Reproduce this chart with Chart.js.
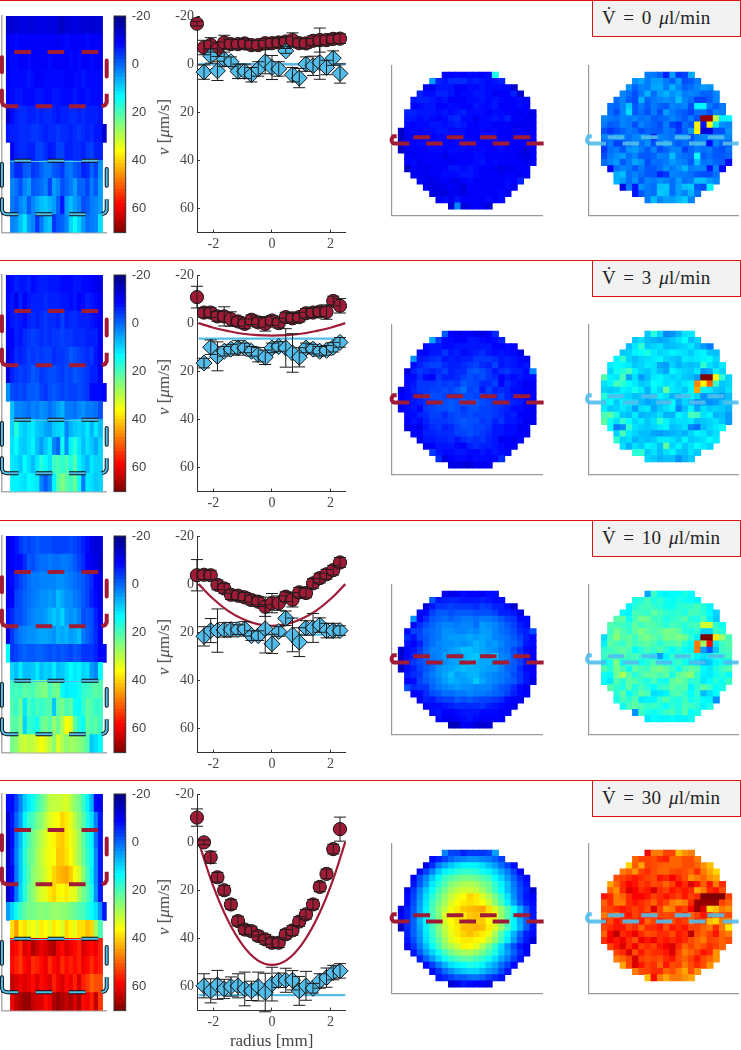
<!DOCTYPE html>
<html>
<head>
<meta charset="utf-8">
<title>Velocity profiles</title>
<script src="https://cdn.jsdelivr.net/npm/chart.js@4"></script>
<style>
  html, body { margin: 0; padding: 0; background: #fff; }
  #page { position: relative; width: 741px; height: 1050px; overflow: hidden; }
  canvas { position: absolute; }
  .sep { position: absolute; left: 0; width: 741px; height: 1.4px; background: #dc1414; }
  .box { position: absolute; left: 592px; width: 147px; height: 35px; background: #f2f2f2; border: 1.3px solid #dc1414;
         font: 19px "Liberation Serif", serif; color: #222; line-height: 34px; text-indent: 9px; word-spacing: 2.5px; letter-spacing: 0.3px; white-space: nowrap; }
  .ylab { position: absolute; font: 17px "Liberation Serif", serif; color: #444; white-space: nowrap; transform: translate(-50%, -50%) rotate(-90deg); }
  .xlab { position: absolute; font: 17px "Liberation Serif", serif; color: #444; white-space: nowrap; transform: translate(-50%, -50%); }
</style>
</head>
<body>
<div id="page"></div>
<script>
// flow rates of the four rows
const flowRates = [0, 3, 10, 30];

// colour bar
const barLevels = [-20,-18.5,-17,-15.5,-14,-12.5,-11,-9.5,-8,-6.5,-5,-3.5,-2,-0.5,1,2.5,4,5.5,7,8.5,10,11.5,13,14.5,16,17.5,19,20.5,22,23.5,25,26.5,28,29.5,31,32.5,34,35.5,37,38.5,40,41.5,43,44.5,46,47.5,49,50.5,52,53.5,55,56.5,58,59.5,61,62.5,64,65.5,67,68.5,70];
const barTicks = [-20, 0, 20, 40, 60];
const profileYTicks = [-20, 0, 20, 40, 60];
const profileXTicks = [-2, 0, 2];

// velocity profiles, radius in mm, v in um/s
const radius = [-2.56,-2.32,-2.09,-1.86,-1.63,-1.40,-1.16,-0.93,-0.70,-0.47,-0.23,0,0.23,0.47,0.70,0.93,1.16,1.40,1.63,1.86,2.09,2.32];
const radiusBlue = [-2.32,-2.09,-1.86,-1.63,-1.40,-1.16,-0.93,-0.70,-0.47,-0.23,0,0.23,0.47,0.70,0.93,1.16,1.40,1.63,1.86,2.09,2.32];

const velRed0 = [-16.8,-6.9,-8,-6.2,-9,-8.3,-8.3,-8.6,-7.9,-7.9,-8.7,-8.7,-9,-9.4,-10,-8.7,-8.6,-9.7,-10,-10,-10.5,-10.6];
const errRed0 = [1,3,3,3,3,2,2,2,2,2,2,2,2,2,3,2,2,2,5,2,2,2];
const velBlue0 = [3.3,-3.4,2.8,-2,-1,3,3,4.4,2,-1,1.4,2,-5.5,4.4,5.8,0,0.7,-0.7,1.4,-2.5,3.9];
const errBlue0 = [3,3,4,3,2,3,3,3,3,5,5,3,1,3,4,3,4,7,3,3,4];

const velRed1 = [-10.8,-4.4,-4.4,-2.8,-2.8,-1.7,-0.7,0.3,-1.4,-0.3,0.3,-1.1,0,-2.5,-2,-2.5,-4.1,-4.4,-4.8,-4.6,-9.2,-7.2];
const errRed1 = [4.5,2,2,2,4,3,2,2,2,2,3,2,2,2,2,2,2,2,2,3,2,3];
const velBlue1 = [16.6,10,13.8,11.7,10.8,10.3,10.3,11.7,13.1,14.2,10.3,9.7,10.3,12.4,14.2,10.3,10.8,11.7,11.3,10,8];
const errBlue1 = [2,3,6,2,2,3,2,2,3,3,2,2,8,8,4,2,2,2,2,2,2];

const velRed2 = [-3.7,-3.9,-3.7,0.3,1.8,4.4,4.8,5.5,6.6,7.3,9.4,7.9,7.9,5.2,6.5,3.4,3.7,-0.3,-2.5,-4.1,-5.8,-9];
const errRed2 = [6.5,2,2,2,2,2,2,2,2,2,4,4,3,2,3,2,2,2,2,2,2,2];
const velBlue2 = [21.7,19.3,19.3,19,18.9,18.9,18.6,21.4,21.4,18.6,24.8,19.7,14.2,21.1,24.1,18.2,18.2,17,19.3,19.3,19.3];
const errBlue2 = [4,5,9,3,3,2,3,2,2,10,4,2,3,7,6,3,6,3,3,3,2];

const velRed3 = [-10.2,0.1,6.3,14.6,20,25.9,32.8,36.3,37,39,40.4,41.8,41.8,38.3,36.7,33,30,25.9,18.6,13.2,2.9,-5.4];
const errRed3 = [3.6,1,2.5,2,2,2,2,2,2,2,2,2,2,2,2,2,2,2,2,2,2,5];
const velBlue3 = [59.7,61.8,59.3,61,60,59.7,61,61.8,60,62.5,59,57.4,57.4,57.4,61.8,59.7,60.7,57.7,56.3,54.2,53.5];
const errBlue3 = [5,5,6,4,4,5,7,4,6,8,7,3,5,4,6,6,2,3,4,3,3];

// model curves
const fitRadius = [-2.5,-2,-1.5,-1,-0.5,0,0.5,1,1.5,2,2.5];
const fitRed0 = [0,0,0,0,0,0,0,0,0,0,0];
const fitRed1 = [0,1.9,3.3,4.4,5,5.2,5,4.4,3.3,1.9,0];
const fitRed2 = [0,6.2,11.1,14.5,16.6,17.3,16.6,14.5,11.1,6.2,0];
const fitRed3 = [0,18.4,32.6,42.8,49,51,49,42.8,32.6,18.4,0];
const fitBlueRadius = [-2.5, 2.5];
const fitBlue0 = [0, 0];
const fitBlue1 = [6.4, 6.4];
const fitBlue2 = [21, 21];
const fitBlue3 = [63.6, 63.6];

// first column of each row of the side slices and the discs
const heatRowStart = [0,0,0,0,0,0,0,1,1,1,1,1];
const discTopStart = [7,5,4,3,2,2,1,1,1,0,0,0,0,1,1,1,2,3,4,5,6,8];
const discBotStart = [8,6,5,4,3,2,2,1,1,1,1,1,1,1,1,2,3,3,4,6,8];

// side slices, v per cell
const heat0 = [
[-13,-12,-12,-12,-11,-12,-12,-11,-11,-11,-12,-11,-13,-14,-12,-12,-11,-12,-12,-12,-13,-12,-13],
[-10,-9,-8,-9,-9,-9,-9,-9,-9,-9,-9,-9,-10,-9,-8,-9,-9,-9,-9,-8,-9,-9,-9],
[-10,-8,-8,-9,-9,-8,-9,-9,-9,-9,-8,-9,-9,-9,-9,-8,-9,-8,-9,-9,-8,-9,-9],
[-9,-8,-8,-8,-8,-7,-8,-9,-9,-8,-8,-8,-8,-8,-9,-9,-8,-8,-7,-8,-8,-8,-8],
[-9,-8,-7,-7,-8,-8,-8,-7,-7,-8,-8,-7,-7,-8,-8,-8,-7,-8,-8,-7,-8,-8,-8],
[-13,-8,-6,-5,-5,-6,-6,-5,-6,-5,-5,-6,-7,-6,-6,-5,-5,-6,-5,-6,-6,-6,-7],
[-7,-6,-6,-5,-5,-5,-4,-4,-5,-6,-5,-5,-4,-5,-5,-6,-5,-4,-5,-6,-5,-7,-7,-13],
[-9,-6,-5,-5,-6,-6,-3,-3,-5,-7,-6,-3,-3,-6,-6,-5,-5,-6,-4,-3,-6,-6],
[-1,-5,-5,-1,0,-4,-3,0,2,2,-1,-2,-4,1,2,-1,-2,-6,-5,0,-3,4],
[3,1,-2,3,5,-1,0,1,3,-3,5,3,-2,0,2,5,0,0,-3,2,-1,5],
[2,0,3,5,-1,3,6,8,9,7,5,0,-7,5,8,5,3,-2,-1,2,3,5],
[3,4,8,12,5,3,-4,2,7,9,-4,-1,0,3,10,14,10,5,1,2,3,11]];
const heat1 = [
[-9,-8,-6,-7,-7,-6,-8,-7,-6,-6,-7,-7,-7,-8,-8,-8,-7,-7,-8,-8,-9,-10,-11],
[-8,-7,-10,-6,-9,-7,-6,-6,-6,-5,-6,-6,-6,-7,-7,-8,-7,-9,-8,-6,-7,-8,-9],
[-9,-7,-6,-7,-8,-6,-5,-6,-5,-4,-5,-5,-6,-3,-6,-5,-5,-6,-6,-6,-7,-8,-9],
[-9,-9,-6,-7,-5,-4,-3,-4,-5,-4,-5,-4,-4,-3,-4,-4,-5,-5,-5,-6,-6,-6,-9],
[-12,-8,-5,-6,-5,-3,-4,-3,-4,-3,-3,-5,-4,-4,-3,-1,-2,-3,-4,-5,-4,-7,-9],
[-12,-6,-4,-3,-4,-3,-1,-2,-4,-3,-2,-2,-3,-4,-2,-3,-1,-2,-3,-4,-6,-6,-9],
[4,-2,-3,-2,-3,-1,-1,0,-3,-4,-2,-1,-2,-3,-2,-3,-3,-2,-3,-4,-8,-8,-8,-9],
[8,3,3,2,1,3,2,4,3,1,3,5,7,2,2,1,3,4,2,2,1,-2],
[10,17,11,9,11,12,9,8,6,5,9,10,11,3,7,9,10,9,12,7,12,8],
[11,14,10,9,11,13,8,5,9,12,3,0,15,4,13,17,12,8,11,9,6,10],
[12,11,9,14,11,8,12,17,14,11,19,20,18,20,16,21,13,10,7,12,10,10],
[13,13,12,11,14,13,12,3,-1,3,13,21,25,22,19,23,15,2,12,11,9,10]];
const heat2 = [
[-11,-9,-7,-4,-2,-3,-2,-1,-2,-2,-2,-3,-3,-3,-3,-2,-3,-4,-6,-8,-11,-12,-12],
[-11,-9,-8,-8,-5,-1,-2,0,1,1,2,1,1,2,2,1,-1,-3,-5,-9,-10,-11,-13],
[-9,-8,-5,-3,-1,1,2,2,3,3,3,3,4,4,3,2,1,0,-1,-3,-5,-9,-10],
[-10,-9,-3,-2,0,1,2,3,4,4,5,4,8,6,4,4,2,1,-1,-3,-6,-8,-10],
[-7,-5,-2,-2,0,2,3,4,4,5,7,9,7,10,5,4,5,3,-2,-1,-2,-6,-9],
[-11,-4,0,2,3,4,4,5,6,6,5,4,7,6,7,5,6,8,2,0,-2,-5,-9],
[14,-4,-3,-1,0,-1,-1,0,0,-1,-2,-1,-2,-1,-2,-3,-1,-2,-4,-4,-4,-6,-9,-8],
[10,8,12,8,8,9,12,8,10,9,12,8,9,11,14,12,13,10,11,5,3,14],
[19,20,19,22,21,20,23,24,25,20,23,24,14,12,13,13,15,18,19,20,22,21],
[21,18,24,12,20,17,20,18,20,21,9,22,24,20,22,15,14,18,22,21,18,19],
[22,21,25,10,18,17,15,22,24,21,27,23,29,36,34,22,17,14,23,20,22,19],
[24,26,30,32,30,31,33,36,33,30,26,33,29,26,28,27,26,24,21,9,11,14]];
const heat3 = [
[-8,-8,-3,3,9,12,15,19,22,26,30,31,31,32,33,30,26,24,19,13,7,-9,-10],
[-13,-7,0,5,13,18,20,24,26,30,33,35,36,40,38,34,30,26,22,16,11,2,-7],
[-14,-8,2,8,16,20,24,27,30,33,35,37,40,41,38,35,32,28,22,17,13,1,-7],
[-14,-7,3,9,17,22,24,28,31,34,35,36,41,41,39,36,32,28,23,18,14,3,-7],
[-13,-9,2,9,16,21,26,28,30,33,35,40,42,43,44,41,36,33,26,20,13,3,-7],
[-14,-8,2,10,17,23,26,30,33,34,38,40,37,36,38,34,34,28,24,21,16,4,-7],
[5,10,15,19,22,24,24,25,26,25,26,27,27,26,26,24,23,21,20,17,14,11,4,-7],
[39,45,37,39,34,36,33,38,36,34,38,36,33,40,37,34,39,39,42,40,28,20],
[60,58,55,62,60,66,63,60,62,64,66,60,58,62,60,58,56,62,60,58,60,56],
[58,56,54,58,60,55,56,58,60,55,58,60,55,58,56,58,56,60,58,55,58,56],
[64,62,60,62,60,58,62,58,60,62,56,60,62,58,60,56,62,56,54,50,52,52],
[60,64,66,68,68,64,62,62,58,60,66,68,66,64,66,62,66,58,60,56,64,54]];

// discs, v per cell, third column of the figure
const discTop0 = [
[-9,-9,-8,-9,-8,-8,-9,-8,16],
[5,-6,-7,-5,-5,-5,-7,-6,-7,-8,-7,-6],
[-10,-10,-7,-7,-7,-9,-9,-8,-8,-7,-8,-8,-8,-8,-13],
[-6,-8,-8,-6,-6,-7,-9,-8,-8,-7,-7,-8,-10,-9,-9,-6,-13],
[-7,-6,-6,-7,-8,-7,-9,-9,-9,-8,-8,-7,-8,-7,-8,-9,-9,-8,-9],
[-9,-8,-7,-7,-9,-9,-8,-8,-9,-9,-7,-8,-8,-7,-9,-9,-9,-8,-9],
[-6,-6,-7,-7,-7,-8,-7,-8,-7,-6,-8,-8,-8,-9,-8,-8,-9,-9,-10,-9,-11],
[-7,-7,-8,-7,-8,-9,-8,-6,-5,-8,-8,-10,-8,-8,-7,-8,-6,-9,-9,-10,-10],
[-8,-9,-8,-8,-7,-7,-8,-7,-6,-7,-9,-9,-8,-8,-9,-9,-9,-10,-10,-10,-10],
[-14,-9,-8,-9,-8,-8,-7,-7,-8,-8,-8,-9,-9,-8,-9,-8,-9,-9,-10,-9,-10,-9],
[-14,-10,-9,-9,-8,-9,-8,-8,-9,-8,-8,-9,-9,-8,-7,-8,-9,-9,-9,-9,-10,-9],
[-14,-9,-9,-8,-8,-8,-8,-8,-9,-8,-8,-8,-8,-9,-9,-9,-9,-10,-9,-9,-9,-10],
[-14,-10,-9,-9,-9,-8,-8,-9,-8,-8,-8,-9,-8,-8,-9,-9,-8,-9,-9,-10,-12,-9],
[-9,-10,-9,-9,-9,-9,-11,-9,-9,-9,-9,-8,-8,-9,-9,-9,-9,-9,-10,-11,-9],
[-9,-8,-10,-9,-9,-9,-9,-10,-9,-9,-9,-8,-7,-9,-8,-9,-9,-9,-9,-10,-9],
[-14,-9,-10,-10,-10,-9,-9,-7,-7,-8,-7,-8,-9,-9,-10,-11,-10,-10,-9,-9],
[-10,-10,-10,-9,-9,-8,-8,-8,-7,-7,-8,-9,-9,-9,-10,-9,-9,-10,-9],
[-9,-10,-11,-10,-9,-10,-11,-9,-8,-9,-9,-9,-9,-9,-8,-9,-6],
[-10,-11,-11,-10,-9,-10,-12,-9,-9,-9,-9,-9,-9,-8,-9],
[-11,-11,-12,-10,-10,-11,-9,-9,-9,-9,-9,-8,-9],
[-10,-8,-10,-7,-9,-9,-9,-9,-8,-9,-8],
[-12,3,-12,-10,-9,-10,-12]];
const discTop1 = [
[-1,-9,-10,-9,-9,-10,-11,-9,-5],
[6,-4,-8,-8,-9,-9,-7,-7,-8,-9,-8,-6],
[-8,-7,-7,-8,-8,-7,-7,-7,-7,-7,-7,-9,-9,-8,-9],
[-8,-9,-7,-7,-4,-7,-6,-8,-7,-6,-5,-7,-8,-7,-8,-8,-11],
[4,-7,-6,-5,-4,-7,-6,-7,-6,-6,-4,-4,-4,-5,-7,-6,-7,-8,-9],
[-8,-6,-4,-3,-3,-5,-6,-6,-5,-4,-3,-5,-6,-3,-7,-6,-7,-8,-7],
[-12,-6,-4,-5,-6,-5,-3,-6,-5,-5,-2,-1,-2,-4,-7,-5,-4,-6,-6,-8,3],
[-8,-8,-5,-8,-9,-4,-6,-6,-5,-3,-2,-3,-2,-4,-5,-9,-7,-8,-7,-8,-8],
[-8,-7,-4,-4,-4,-3,-4,-3,-4,-1,-2,-3,-5,-5,-3,-9,-5,-7,-8,-10,-9],
[-11,-8,-6,-4,-4,-3,-3,-2,-3,-1,1,-3,-2,-7,-3,-6,-5,-6,-8,-8,-9,-9],
[-9,-8,-7,-6,-3,-2,-2,-3,-3,-3,-2,-2,-3,-3,-4,-5,-3,-6,-7,-8,-9,-9],
[-10,-9,-7,-6,-5,-4,-2,-2,-1,-2,0,-2,-1,-2,-3,-4,-4,-5,-6,-7,-9,-10],
[-9,-8,-7,-9,-4,-3,-2,-2,-1,-2,-4,-2,-2,-3,-3,-4,-5,-6,-8,-8,-9,-10],
[-8,-8,-6,-5,-3,-3,-5,-3,-2,-3,-2,-3,-3,-3,-4,-5,-7,-6,-9,-9,-10],
[-9,-7,-8,-6,-4,-4,-4,-3,-2,-1,-2,-2,-4,-3,-6,-4,-7,-7,-8,-10,-10],
[-11,-9,-11,-7,-5,-4,-6,-5,-3,-2,-2,-3,-3,-4,-7,-7,-8,-8,-10,-9],
[-8,-9,-6,-6,-5,-5,-5,-3,-3,-2,-3,-4,-5,-7,-7,-8,-8,-9,-9],
[-10,-7,-7,-6,-6,-5,-7,-5,-4,-5,-4,-6,-7,-10,-9,-10,-8],
[-10,-9,-7,-7,-7,-8,-9,-6,-5,-6,-6,-7,-8,-9,-9],
[-4,-7,-8,-8,-7,-7,-8,-8,-7,-8,-7,-8,-8],
[-5,-11,-9,-8,-8,-9,-8,-8,-8,-8,-5],
[-11,-11,-12,-12,-10,-10,-9]];
const discTop2 = [
[-10,-11,-10,-8,-9,-9,-10,-8,-8],
[-1,-7,-6,-6,-6,-7,-7,-7,-6,-7,-8,-8],
[-12,-7,-4,-4,-3,-4,-4,-4,-5,-3,-4,-6,-6,-8,-13],
[-8,-8,-3,-1,-1,-2,-1,-1,-1,-2,-2,-2,-3,-6,-6,-7,-11],
[4,-9,-5,-1,0,1,0,1,2,2,1,2,2,1,-1,-3,-4,-8,-8],
[-8,-5,-2,0,2,3,3,2,3,3,1,5,4,3,1,-1,-3,-6,-8],
[-8,-3,-3,0,1,2,4,4,3,3,4,3,5,5,3,1,0,-2,-5,-6,-2],
[-5,-7,-3,-1,1,2,4,5,5,5,6,5,6,5,3,2,1,-1,-3,-6,-8],
[-7,-9,-6,-1,1,3,4,4,5,4,5,7,6,4,5,3,1,0,-2,-7,-8],
[-13,-8,-7,-4,0,3,3,4,5,6,8,8,7,6,5,4,2,1,-2,-5,-8,-9],
[-13,-8,-6,-4,0,2,3,5,6,5,7,8,9,7,6,9,3,2,-1,-4,-7,-9],
[-13,-7,-4,-2,-1,1,3,4,5,6,7,9,7,6,6,4,3,1,-1,-3,-7,-9],
[-14,-8,-6,-3,-1,1,4,5,6,7,8,7,7,6,5,5,3,0,-1,-5,-8,-9],
[-7,-5,-4,0,2,4,6,8,5,6,7,7,5,4,3,2,1,-2,-4,-7,-9],
[-9,-8,-3,-1,1,3,5,7,6,5,6,9,6,4,3,2,0,-1,-4,-7,-11],
[-2,-5,-4,-4,0,2,3,4,5,4,4,3,3,3,1,-1,-2,-5,-8,-10],
[-9,-8,-5,-2,-1,1,1,2,2,3,2,2,1,0,-1,-3,-6,-8,-9],
[-9,-6,-7,-4,-3,-3,-1,-2,-1,-2,-3,-3,-4,-5,-8,-9,-10],
[-9,-8,-8,-7,-6,-5,-5,-5,-5,-4,-6,-7,-8,-9,-10],
[-8,-7,-9,-9,-8,-7,-7,-7,-8,-8,-8,-9,-9],
[-8,-10,-10,-9,-8,-7,-8,-9,-9,-9,-9],
[-15,-14,-10,-10,-12,-13,-12]];
const discTop3 = [
[3,-3,-3,-6,-4,-4,-4,-3,5],
[-8,-6,-3,0,2,3,4,4,3,2,0,-3],
[-11,-5,2,6,9,11,13,13,13,11,8,5,1,-3,-8],
[-8,-3,3,9,13,15,17,18,18,17,15,13,10,6,2,-3,-9],
[-9,-2,3,9,14,19,21,23,24,24,23,21,19,14,10,5,0,-5,-8],
[-7,-1,5,12,17,21,25,27,29,29,28,25,23,18,13,8,2,-3,-7],
[-11,-4,3,9,14,20,24,28,31,32,32,31,28,24,19,14,8,3,-2,-6,-13],
[-8,-3,4,11,17,22,27,31,34,36,40,38,33,29,24,18,11,4,-2,-7,-9],
[-8,-2,5,12,19,24,28,33,36,38,39,38,36,32,26,20,13,6,-1,-6,-8],
[-12,-6,-1,6,13,20,26,31,35,38,41,42,43,44,39,33,27,21,14,7,-1,-7],
[-10,-6,-1,7,13,20,25,33,36,38,38,41,42,41,38,35,27,21,14,6,-1,-7],
[-10,-5,0,7,13,19,25,33,36,39,38,41,41,41,36,33,27,20,13,6,0,-7],
[-14,-5,0,6,13,19,25,31,35,38,42,42,43,42,38,33,27,20,13,7,-1,-7],
[-6,0,5,12,18,24,30,34,38,40,42,40,38,35,28,21,14,7,0,-6,-8],
[-7,-2,4,11,17,22,28,33,36,38,38,37,36,31,26,19,12,5,-2,-7,-12],
[-10,-4,2,8,14,20,26,29,32,37,36,34,29,24,18,11,4,-2,-7,-10],
[-7,-1,5,10,15,20,24,27,28,29,27,24,20,16,10,5,0,-5,-9],
[-6,0,5,10,15,18,20,22,22,20,18,15,11,6,2,-3,-7],
[-8,-3,2,7,11,13,14,16,15,13,9,6,1,-3,-8],
[-8,-4,1,4,7,9,10,10,8,5,3,-2,-7],
[-7,-5,-3,-1,-1,1,1,0,-3,-5,-7],
[-13,-10,-7,-8,-9,-9,-11]];

// discs, fourth column of the figure
const discBot0 = [
[2,2,0,-6,5,-4,-3,6],
[4,6,2,5,5,2,0,5,-2,-1,2],
[4,0,3,2,6,6,2,7,3,0,1,3,5,4],
[3,1,-2,2,7,1,5,7,4,6,2,3,2,0,0,3],
[1,3,-1,-2,7,0,2,3,4,3,8,3,1,-3,-3,-1,3],
[1,0,3,9,-1,2,-1,2,0,-1,3,2,3,-2,13,13,2,-1,2],
[1,-2,3,11,-1,1,-2,2,-2,5,2,0,-1,-3,1,1,-2,3,2],
[3,2,1,3,2,3,1,2,-1,0,1,3,1,-1,2,-2,68,68,30,13,13],
[2,-1,0,3,2,-2,3,1,0,-2,2,-3,-5,1,-1,37,-7,37,12,4,3],
[-2,-4,-2,0,2,1,-2,0,-1,-1,2,1,-4,0,5,37,-12,-12,-2,-2,4],
[3,1,3,3,1,3,4,2,-7,3,2,1,3,3,-2,2,3,1,2,3,3],
[-1,2,-3,-3,1,3,1,4,-2,0,6,1,-1,1,0,3,2,-8,3,0,-1],
[-4,1,2,-1,4,5,2,-1,3,-2,0,3,3,-3,0,2,1,2,-1,-2,1],
[-2,2,4,5,1,3,-1,-1,0,3,2,8,2,1,0,14,-1,1,-1,-1,0],
[1,3,5,-1,2,6,4,-2,1,1,2,5,3,2,-1,8,1,2,0,-1,-8],
[-9,1,3,2,-1,2,-1,-1,1,4,2,4,7,2,3,3,-7,3,-8],
[6,8,1,3,1,-1,-1,-6,-4,3,2,2,1,-1,-2,-2,1],
[7,5,1,4,-1,3,2,4,3,1,5,1,2,8,8,5,3],
[-11,2,-7,4,2,1,8,9,1,5,8,9,-1,-2,13],
[-7,-1,2,1,9,8,1,5,3,7,1],
[2,8,3,5,5,7,9,3]];
const discBot1 = [
[9,17,10,3,4,7,11,12],
[9,11,8,7,6,7,9,11,14,8,10],
[8,12,18,9,10,11,8,8,9,10,12,8,5,2],
[9,10,13,14,16,12,10,11,13,12,11,9,12,13,9,8],
[13,18,10,8,10,11,12,13,10,9,8,12,11,12,13,14,10],
[12,14,13,12,9,10,12,11,6,5,10,7,9,8,9,18,11,9,12],
[10,15,17,20,13,10,9,11,8,6,13,11,10,9,12,4,6,13,10],
[21,13,12,20,6,11,5,8,12,13,11,10,11,9,8,5,70,70,36,18,10],
[11,13,20,18,14,12,9,10,14,13,11,12,10,12,13,47,37,50,19,9,10],
[10,9,10,13,12,15,12,7,13,10,23,12,11,9,13,44,13,12,9,8,11],
[17,12,13,11,10,8,9,7,10,13,11,7,8,12,13,10,4,6,7,4,8],
[12,14,9,13,12,11,8,6,7,8,9,14,6,10,8,3,5,4,5,8,9],
[12,9,10,12,10,5,11,12,6,9,11,13,3,8,13,6,11,9,10,9,7],
[20,22,16,9,8,12,7,8,9,11,7,7,13,11,20,19,11,13,7,8,5],
[22,15,11,18,14,10,12,9,11,18,13,10,11,11,12,8,9,10,11,9,5],
[14,2,4,18,11,10,9,10,12,13,8,9,11,3,1,8,10,12,14],
[10,20,12,10,8,8,6,5,6,7,8,7,10,13,12,9,11],
[18,10,11,7,9,8,9,12,12,11,9,13,9,10,11,14,12],
[11,7,11,9,13,12,8,22,10,13,9,11,14,12,10],
[17,18,9,11,8,11,13,9,8,11,9],
[10,9,7,8,8,4,7,9]];
const discBot2 = [
[6,19,14,13,14,14,16,14],
[16,17,20,16,18,15,14,16,15,14,13],
[13,17,19,20,18,17,15,15,17,18,18,20,17,13],
[14,13,20,19,18,22,20,18,17,18,16,20,19,17,14,10],
[21,22,15,20,24,23,19,19,16,18,19,21,17,16,20,13,9],
[21,20,19,18,22,19,21,21,19,17,20,19,17,19,20,32,32,18,15],
[19,24,21,18,22,25,22,20,22,24,24,22,17,16,18,10,10,19,17],
[11,20,26,21,22,19,23,24,22,20,24,23,25,23,18,13,70,70,38,27,20],
[13,22,20,18,22,19,21,22,20,17,20,20,22,17,14,48,27,58,12,19,21],
[18,19,21,22,20,14,17,20,18,21,17,14,17,14,13,48,5,-1,9,19,20],
[19,22,17,21,19,20,18,16,13,5,13,18,16,17,17,13,11,13,18,17,19],
[13,16,25,14,19,18,15,17,20,16,14,16,19,15,13,11,7,9,13,15,13],
[21,17,24,20,15,22,20,19,23,24,22,19,15,20,22,21,14,12,16,19,21],
[15,14,23,29,21,17,20,22,22,20,22,16,22,24,26,18,13,12,15,17,14],
[14,12,21,17,22,21,18,16,20,16,15,22,24,21,17,18,12,14,17,15,19],
[21,18,16,22,16,20,17,14,18,19,22,20,21,13,18,22,19,14,16],
[17,22,14,18,22,20,11,12,13,20,21,18,14,18,8,11,14],
[16,20,18,21,12,13,13,18,21,17,16,19,15,17,14,13,4],
[15,20,22,20,18,19,17,14,18,16,20,19,17,13,16],
[4,19,16,15,16,19,20,16,21,14,16],
[12,14,13,13,14,13,13,15]];
const discBot3 = [
[60,48,48,53,53,42,46,48],
[50,53,53,52,55,56,50,50,52,52,48],
[40,51,44,53,52,51,50,50,50,52,52,50,46,42],
[48,50,46,53,55,52,50,50,52,53,52,50,55,48,44,40],
[52,53,55,57,55,53,52,57,55,59,55,52,46,48,50,46,44],
[44,50,55,59,57,53,55,52,53,50,53,59,55,62,57,50,57,48,55],
[50,46,55,62,59,55,57,62,55,53,57,55,57,55,44,48,55,57,52],
[57,55,48,50,55,59,59,57,53,55,57,55,53,57,53,55,70,70,70,70,53],
[50,55,48,48,55,57,55,53,50,55,53,48,46,48,55,68,68,68,68,53,50],
[52,53,55,57,55,53,55,52,62,53,46,48,55,53,59,68,62,40,42,48,46],
[48,52,50,55,57,53,55,55,53,53,52,53,52,55,50,53,57,53,48,52,52],
[55,52,57,55,53,55,57,50,53,57,53,52,55,53,50,55,53,42,40,48,46],
[53,55,57,57,53,55,50,55,55,57,52,57,55,57,53,53,50,48,55,48,38],
[50,59,65,55,57,60,55,52,53,55,55,52,57,55,65,52,50,53,57,50,48],
[55,60,57,60,55,52,60,57,60,55,57,55,57,55,52,50,48,53,52,50,52],
[53,57,62,55,60,53,55,53,57,60,62,55,50,53,50,52,55,53,50],
[53,55,62,52,57,53,55,55,57,62,53,48,50,53,57,55,46],
[48,50,53,62,53,52,53,52,55,57,52,50,53,57,52,50,46],
[44,53,62,57,53,55,50,57,52,53,48,52,55,52,46],
[48,52,53,55,55,50,52,48,44,52,46],
[42,58,48,44,48,48,46,44]];

// dashed region marks, in cell units
const heatRoiX = [1.91,5.9,null,9.88,13.86,null,18,22,null,-1.04,-1.04,-0.72,0.08,2.87,null,7.01,11,null,14.98,18.96,null,22.8,23.6,24,24,null,-1.04,-1.04,null,24,24];
const heatRoiRedY = [2,2,null,2,2,null,2,2,null,4.13,4.78,4.94,5,5,null,5,5,null,5,5,null,5,4.94,4.78,4.31,null,2.28,3.11,null,2.46,3.35];
const heatRoiBlueY = [8.02,8.02,null,8.02,8.02,null,8.02,8.02,null,10.15,10.76,10.92,10.98,10.98,null,10.98,10.98,null,10.98,10.98,null,10.98,10.92,10.76,10.15,null,8.2,9.41,null,8.48,9.41];
const heatEdgeX = [1, 22];
const heatEdgeY = [8.06, 8.06];
const cutY = [11.44,11.44,null,11.44,11.44,null,11.44,11.44,null,11.44,11.44,null,12.46,12.46,null,12.46,12.46,null,12.46,12.46,null,12.46,12.46,null,12.46,12.46,null,11.28,11.3,11.7,12.1,12.45,12.46];
const cutTopX = [3.4,6.06,null,8.72,11.4,null,14.04,16.7,null,19.36,22.07,null,0.43,2.77,null,5.43,8.09,null,10.74,13.4,null,16.06,18.72,null,21.43,24.2,null,0.75,0.2,-0.05,-0.05,0.2,0.6];
const cutBotX = [3,5.67,null,8.4,11.05,null,13.8,16.4,null,19.1,21.8,null,0.16,2.73,null,5.4,8.07,null,10.75,13.4,null,16.1,18.77,null,21.55,24.1,null,0.45,-0.1,-0.3,-0.3,-0.05,0.4];

// layout of the panels on the page
const heatTops = [15.7, 275, 535.7, 794.3];
const discTops = [65.7, 325.3, 585, 844.3];
const rowTops = [0, 260, 520, 780];
const PANEL_H = 216.6;
const DISC_H = 149.3;

const RED = '#a01c36';
const BLUE = '#52bcea';

const page = document.getElementById('page');

// matlab jet colours over the colour bar range
function jet(v) {
  const t = Math.min(1, Math.max(0, (v + 20) / 90));
  const ch = x => Math.round(255 * Math.min(1, Math.max(0, x)));
  return `rgb(${ch(Math.min(4 * t - 1.5, -4 * t + 4.5))},${ch(Math.min(4 * t - 0.5, -4 * t + 3.5))},${ch(Math.min(4 * t + 0.5, -4 * t + 2.5))})`;
}

function cellsFrom(rows, starts, xShift, yShift) {
  const cells = [];
  rows.forEach((row, r) => {
    row.forEach((v, c) => {
      cells.push({ x: starts[r] + c + xShift, y: [r + yShift, r + yShift + 1], v });
    });
  });
  return cells;
}

function zip(xs, ys) {
  return xs.map((x, i) => ({ x, y: ys[i] }));
}

function lineSet(xs, ys, color, width, order) {
  return { type: 'line', data: zip(xs, ys), borderColor: color, borderWidth: width, pointRadius: 0, order, clip: false, spanGaps: false, tension: 0, borderJoinStyle: 'round' };
}

// makes a canvas whose chart area lands on the given page box
// axis gives the room the labelled scales take out of the padding
function addChart(box, pad, axis, config) {
  const canvas = document.createElement('canvas');
  const w = box.right - box.left + pad.left + pad.right;
  const h = box.bottom - box.top + pad.top + pad.bottom;
  canvas.width = Math.round(w);
  canvas.height = Math.round(h);
  canvas.style.left = (box.left - pad.left) + 'px';
  canvas.style.top = (box.top - pad.top) + 'px';
  page.appendChild(canvas);
  config.options = Object.assign({
    responsive: false,
    animation: false,
    devicePixelRatio: 1,
    events: [],
    layout: { padding: {
      left: pad.left - (axis.left || 0),
      right: canvas.width - pad.left - (box.right - box.left) - (axis.right || 0),
      top: pad.top,
      bottom: canvas.height - pad.top - (box.bottom - box.top) - (axis.bottom || 0)
    } }
  }, config.options);
  config.options.plugins = { legend: { display: false }, tooltip: { enabled: false }, title: { display: false } };
  return new Chart(canvas.getContext('2d'), config);
}

const fixWidth = w => s => { s.width = w; };
const fixHeight = h => s => { s.height = h; };

// gray L shaped axes without ticks
function plainScale(min, max, reverse, isX, color, width) {
  return {
    type: 'linear', min, max, reverse, offset: false,
    ticks: { display: false },
    grid: { drawOnChartArea: false, drawTicks: false },
    border: { display: true, color, width },
    afterFit: isX ? fixHeight(0) : fixWidth(0)
  };
}

const errorBars = {
  id: 'errorBars',
  afterDatasetsDraw(chart) {
    const { ctx, scales } = chart;
    ctx.save();
    ctx.strokeStyle = '#1c1c1c';
    ctx.lineWidth = 1;
    chart.data.datasets.forEach(ds => {
      if (!ds.errs) return;
      ds.data.forEach((p, i) => {
        const px = scales.x.getPixelForValue(p.x);
        const up = scales.y.getPixelForValue(p.y - ds.errs[i]);
        const dn = scales.y.getPixelForValue(p.y + ds.errs[i]);
        ctx.beginPath();
        ctx.moveTo(px, up); ctx.lineTo(px, dn);
        ctx.moveTo(px - 6, up); ctx.lineTo(px + 6, up);
        ctx.moveTo(px - 6, dn); ctx.lineTo(px + 6, dn);
        ctx.stroke();
      });
    });
    ctx.restore();
  }
};

const barFrame = {
  id: 'barFrame',
  afterDraw(chart) {
    const { ctx, chartArea: a } = chart;
    ctx.save();
    ctx.strokeStyle = '#333';
    ctx.lineWidth = 1;
    ctx.strokeRect(a.left, a.top, a.right - a.left, a.bottom - a.top);
    ctx.restore();
  }
};

function addHeat(rows, top) {
  const box = { left: 1.7, right: 106.7, top, bottom: top + PANEL_H };
  addChart(box, { left: 1.7, right: 4, top: 6, bottom: 6 }, {}, {
    type: 'bar',
    data: {
      datasets: [
        { data: cellsFrom(rows, heatRowStart, 0.5, 0), backgroundColor: c => jet(c.raw.v), barThickness: 4.2, borderWidth: 0, order: 5, inflateAmount: 0.4 },
        lineSet(heatRoiX, heatRoiRedY, RED, 4, 1),
        lineSet(heatEdgeX, heatEdgeY, BLUE, 1.2, 4),
        lineSet(heatRoiX, heatRoiBlueY, '#111', 4, 3),
        lineSet(heatRoiX, heatRoiBlueY, BLUE, 2, 2)
      ]
    },
    options: {
      scales: {
        x: plainScale(-1.1, 24, false, true, '#aaa', 1.5),
        y: plainScale(0, 12, true, false, '#aaa', 1.5)
      }
    }
  });
}

function addColorBar(top) {
  const cells = barLevels.slice(0, -1).map((lo, i) => ({ x: 0.5, y: [lo, barLevels[i + 1]], v: (lo + barLevels[i + 1]) / 2 }));
  addChart({ left: 114.3, right: 126, top, bottom: top + PANEL_H }, { left: 2, right: 32, top: 16, bottom: 16 }, { right: 32 }, {
    type: 'bar',
    data: { datasets: [{ data: cells, backgroundColor: c => jet(c.raw.v), barThickness: 12, borderWidth: 0, inflateAmount: 0.4 }] },
    options: {
      scales: {
        x: { type: 'linear', min: 0, max: 1, offset: false, display: false, afterFit: fixHeight(0) },
        y: {
          type: 'linear', position: 'right', min: -20, max: 70, reverse: true,
          afterBuildTicks: s => { s.ticks = barTicks.map(value => ({ value })); },
          ticks: { color: '#444', font: { family: '"Liberation Sans"', size: 13 }, padding: 6, callback: v => String(v) },
          grid: { drawOnChartArea: false, drawTicks: false },
          border: { display: false },
          afterFit: fixWidth(32)
        }
      }
    },
    plugins: [barFrame]
  });
}

function addProfile(top, spec) {
  const tickFont = { family: '"Liberation Serif"', size: 14 };
  addChart({ left: 197.3, right: 346, top, bottom: top + PANEL_H }, { left: 32, right: 14, top: 16, bottom: 26 }, { left: 32, bottom: 26 }, {
    type: 'line',
    data: {
      datasets: [
        lineSet(fitBlueRadius, spec.fitBlue, BLUE, 2.2, 4),
        Object.assign(lineSet(fitRadius, spec.fitRed, RED, 2.2, 5), { tension: 0.4 }),
        { data: zip(radiusBlue, spec.velBlue), errs: spec.errBlue, showLine: false, pointStyle: 'rectRot', pointRadius: 8, pointBackgroundColor: BLUE, pointBorderColor: '#111', pointBorderWidth: 1, clip: false, order: 1 },
        { data: zip(radius, spec.velRed), errs: spec.errRed, showLine: false, pointStyle: 'circle', pointRadius: 6.6, pointBackgroundColor: RED, pointBorderColor: '#111', pointBorderWidth: 1, clip: false, order: 2 }
      ]
    },
    options: {
      scales: {
        x: {
          type: 'linear', min: -2.558, max: 2.515,
          afterBuildTicks: s => { s.ticks = profileXTicks.map(value => ({ value })); },
          ticks: { color: '#444', font: tickFont, padding: 6, maxRotation: 0, autoSkip: false, callback: v => String(v) },
          grid: { drawOnChartArea: false, tickLength: -3, tickColor: '#333' },
          border: { display: true, color: '#333', width: 1 },
          afterFit: fixHeight(26)
        },
        y: {
          type: 'linear', min: -20, max: 70, reverse: true,
          afterBuildTicks: s => { s.ticks = profileYTicks.map(value => ({ value })); },
          ticks: { color: '#444', font: tickFont, padding: 6, autoSkip: false, callback: v => String(v) },
          grid: { drawOnChartArea: false, tickLength: -3, tickColor: '#333' },
          border: { display: true, color: '#333', width: 1 },
          afterFit: fixWidth(32)
        }
      }
    }
  });
}

function addDisc(rows, starts, left, right, top, cutX, color) {
  addChart({ left, right, top, bottom: top + DISC_H }, { left: 6, right: 3, top: 3, bottom: 3 }, {}, {
    type: 'bar',
    data: {
      datasets: [
        { data: cellsFrom(rows, starts, 1.5, 1), backgroundColor: c => jet(c.raw.v), barThickness: (right - left) / 24, borderWidth: 0, order: 5, inflateAmount: 0.4 },
        lineSet(cutX, cutY, color, 4, 1)
      ]
    },
    options: {
      scales: {
        x: plainScale(0, 24, false, true, '#999', 1.2),
        y: plainScale(0, 24, true, false, '#999', 1.2)
      }
    }
  });
}

Chart.register(errorBars);

const heats = [heat0, heat1, heat2, heat3];
const discsTop = [discTop0, discTop1, discTop2, discTop3];
const discsBot = [discBot0, discBot1, discBot2, discBot3];
const profiles = [
  { velRed: velRed0, errRed: errRed0, velBlue: velBlue0, errBlue: errBlue0, fitRed: fitRed0, fitBlue: fitBlue0 },
  { velRed: velRed1, errRed: errRed1, velBlue: velBlue1, errBlue: errBlue1, fitRed: fitRed1, fitBlue: fitBlue1 },
  { velRed: velRed2, errRed: errRed2, velBlue: velBlue2, errBlue: errBlue2, fitRed: fitRed2, fitBlue: fitBlue2 },
  { velRed: velRed3, errRed: errRed3, velBlue: velBlue3, errBlue: errBlue3, fitRed: fitRed3, fitBlue: fitBlue3 }
];

flowRates.forEach((rate, i) => {
  addHeat(heats[i], heatTops[i]);
  addColorBar(heatTops[i]);
  addProfile(heatTops[i], profiles[i]);
  addDisc(discsTop[i], discTopStart, 392.3, 542.7, discTops[i], cutTopX, RED);
  addDisc(discsBot[i], discBotStart, 589, 738, discTops[i], cutBotX, 'rgba(82,188,234,0.9)');

  // red rule and flow rate label
  const sep = document.createElement('div');
  sep.className = 'sep';
  sep.style.top = rowTops[i] + 'px';
  page.appendChild(sep);

  const box = document.createElement('div');
  box.className = 'box';
  box.style.top = rowTops[i] + 'px';
  box.innerHTML = `V\u0307 = ${rate} <i>\u03bc</i>l/min`;
  page.appendChild(box);

  const yLab = document.createElement('div');
  yLab.className = 'ylab';
  yLab.style.left = '163.5px';
  yLab.style.top = (rowTops[i] + 127) + 'px';
  yLab.innerHTML = '<i>v</i> [<i>\u03bc</i>m/s]';
  page.appendChild(yLab);
});

const xLab = document.createElement('div');
xLab.className = 'xlab';
xLab.style.left = '271.7px';
xLab.style.top = '1040.5px';
xLab.textContent = 'radius [mm]';
page.appendChild(xLab);
</script>
</body>
</html>
